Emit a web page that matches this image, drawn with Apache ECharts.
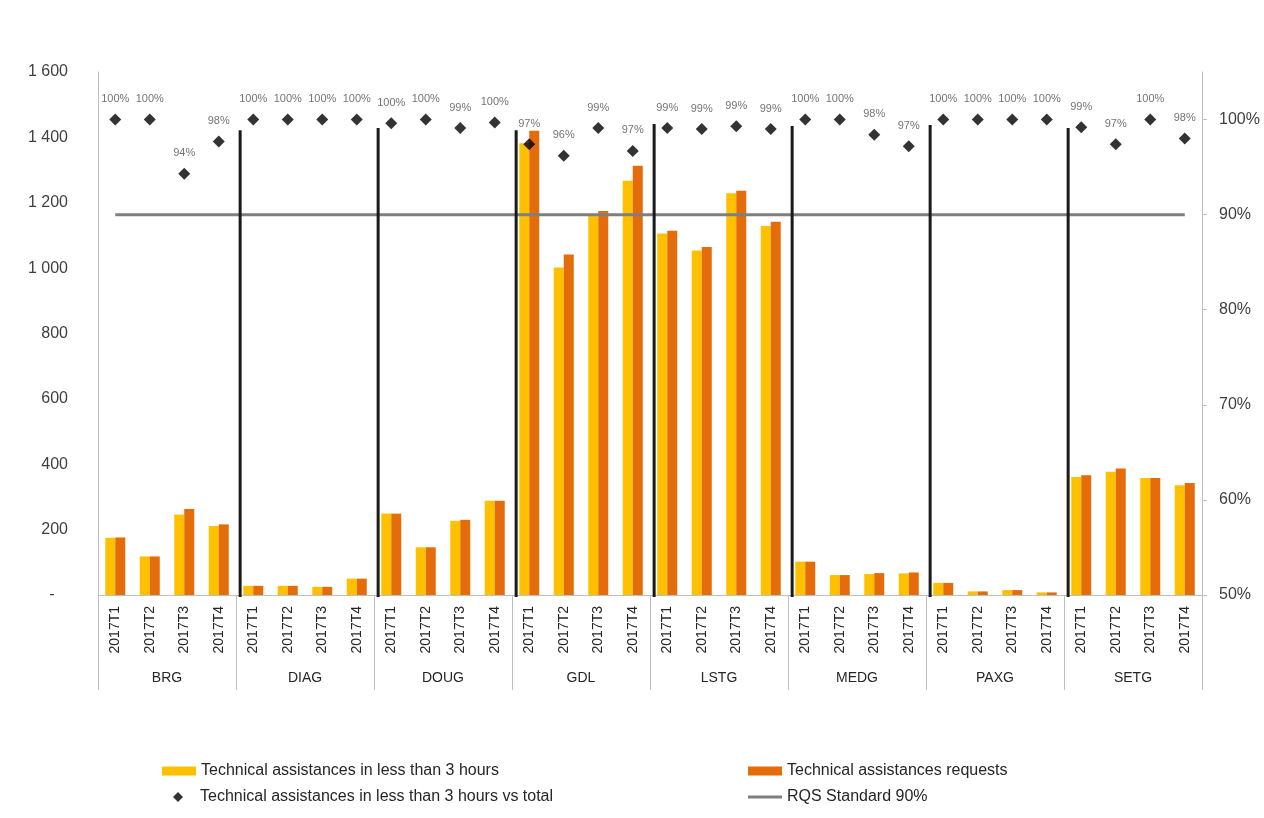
<!DOCTYPE html>
<html>
<head>
<meta charset="utf-8">
<title>Technical assistances 2017</title>
<script src="https://cdn.jsdelivr.net/npm/echarts@6/dist/echarts.min.js"></script>
<style>
  html, body { margin: 0; padding: 0; background: #ffffff; }
  #chart { width: 1264px; height: 818px; }
</style>
</head>
<body>
<div id="chart"></div>
<script>
// Sites and quarters (each site has four quarters)
const groups = ['BRG', 'DIAG', 'DOUG', 'GDL', 'LSTG', 'MEDG', 'PAXG', 'SETG'];
const quarters = ['2017T1', '2017T2', '2017T3', '2017T4'];

// Technical assistances completed in less than 3 hours
const within3h = [
  175, 118, 246, 211,
  28, 28, 25, 50,
  249, 146, 227, 288,
  1382, 1002, 1165, 1267,
  1106, 1054, 1229, 1129,
  102, 61, 64, 66,
  37, 11, 15, 8,
  361, 377, 358, 336
];

// Total technical assistance requests
const requests = [
  176, 118, 263, 216,
  28, 28, 25, 50,
  249, 146, 230, 288,
  1420, 1042, 1175, 1313,
  1114, 1065, 1237, 1142,
  102, 61, 67, 69,
  37, 11, 15, 8,
  366, 387, 358, 343
];

// Share handled in less than 3 hours (%)
const pctWithin = [
  100, 100, 94.3, 97.7,
  100, 100, 100, 100,
  99.6, 100, 99.1, 99.7,
  97.4, 96.2, 99.1, 96.7,
  99.1, 99.0, 99.3, 99.0,
  100, 100, 98.4, 97.2,
  100, 100, 100, 100,
  99.2, 97.4, 100, 98.0
];

// RQS standard (%)
const rqsStandard = 90;

// Heights of the separators drawn between sites (left axis units)
const dividerTops = [1422, 1429, 1422, 1441, 1435, 1438, 1429];

const leftTicks = { min: 0, max: 1600, interval: 200 };
const rightTicks = { min: 50, max: 105, interval: 10 };

// ---- derived structures ----
const categories = [];
groups.forEach(g => quarters.forEach(q => categories.push(g + '|' + q)));
const rqsLine = categories.map(() => rqsStandard);
const dividerData = dividerTops.map((h, i) => [(i + 1) * quarters.length + 0.12, h]);

const FONT = '"Liberation Sans", Arial, sans-serif';
const TXT = '#404040';
const AXIS = '#bfbfbf';

const chart = echarts.init(document.getElementById('chart'), null, { renderer: 'canvas' });

const legendBase = {
  orient: 'horizontal',
  padding: 0,
  itemGap: 10,
  textStyle: { fontFamily: FONT, fontSize: 16, color: '#262626' },
  selectedMode: false
};

chart.setOption({
  animation: false,
  backgroundColor: '#ffffff',
  grid: { left: 98, right: 62, top: 72, bottom: 223, containLabel: false },
  xAxis: [
    {
      type: 'category',
      data: categories,
      boundaryGap: true,
      axisLine: { show: true, lineStyle: { color: AXIS, width: 1 } },
      axisTick: { show: false },
      axisLabel: {
        interval: 0,
        rotate: 90,
        margin: 11,
        fontFamily: FONT,
        fontSize: 14,
        color: '#262626',
        formatter: v => v.split('|')[1]
      },
      splitLine: { show: false }
    },
    {
      type: 'category',
      data: groups,
      position: 'bottom',
      boundaryGap: true,
      axisLine: { show: false },
      axisTick: { show: true, length: 95, lineStyle: { color: AXIS, width: 1 } },
      axisLabel: {
        interval: 0,
        margin: 76,
        fontFamily: FONT,
        fontSize: 14,
        color: '#262626'
      },
      splitLine: { show: false }
    },
    {
      type: 'value',
      min: 0,
      max: categories.length,
      show: false
    }
  ],
  yAxis: [
    {
      type: 'value',
      min: leftTicks.min,
      max: leftTicks.max,
      interval: leftTicks.interval,
      axisLine: { show: true, lineStyle: { color: AXIS, width: 1 } },
      axisTick: { show: false },
      splitLine: { show: false },
      axisLabel: {
        margin: 30,
        fontFamily: FONT,
        fontSize: 16,
        color: TXT,
        formatter: v => v === 0 ? '-   ' : String(v).replace(/\B(?=(\d{3})+(?!\d))/g, ' ')
      }
    },
    {
      type: 'value',
      position: 'right',
      min: rightTicks.min,
      max: rightTicks.max,
      interval: rightTicks.interval,
      axisLine: { show: true, lineStyle: { color: AXIS, width: 1 } },
      axisTick: { show: true, length: 5, lineStyle: { color: AXIS } },
      splitLine: { show: false },
      axisLabel: {
        margin: 17,
        showMaxLabel: false,
        fontFamily: FONT,
        fontSize: 16,
        color: TXT,
        formatter: '{value}%'
      }
    }
  ],
  legend: [
    Object.assign({}, legendBase, {
      left: 162, top: 763, itemWidth: 34, itemHeight: 9,
      data: [{ name: 'Technical assistances in less than 3 hours', icon: 'rect' }]
    }),
    Object.assign({}, legendBase, {
      left: 748, top: 763, itemWidth: 34, itemHeight: 9,
      data: [{ name: 'Technical assistances requests', icon: 'rect' }]
    }),
    Object.assign({}, legendBase, {
      left: 173, top: 789, itemWidth: 10, itemHeight: 10,
      textStyle: Object.assign({}, legendBase.textStyle, { padding: [0, 0, 0, 12] }),
      data: [{ name: 'Technical assistances in less than 3 hours vs total', icon: 'diamond' }]
    }),
    Object.assign({}, legendBase, {
      left: 748, top: 789, itemWidth: 34, itemHeight: 3,
      data: [{ name: 'RQS Standard 90%', icon: 'rect' }]
    })
  ],
  series: [
    {
      name: 'Technical assistances in less than 3 hours',
      type: 'bar',
      xAxisIndex: 0,
      yAxisIndex: 0,
      data: within3h,
      barWidth: 10,
      barGap: '0%',
      itemStyle: { color: '#FFC000' },
      z: 2
    },
    {
      name: 'Technical assistances requests',
      type: 'bar',
      xAxisIndex: 0,
      yAxisIndex: 0,
      data: requests,
      barWidth: 10,
      barGap: '0%',
      itemStyle: { color: '#E46C0A' },
      z: 2
    },
    {
      name: 'RQS Standard 90%',
      type: 'line',
      xAxisIndex: 0,
      yAxisIndex: 1,
      data: rqsLine,
      symbol: 'none',
      lineStyle: { color: '#7f7f7f', width: 3 },
      itemStyle: { color: '#7f7f7f' },
      z: 3
    },
    {
      name: 'site separators',
      type: 'custom',
      xAxisIndex: 2,
      yAxisIndex: 0,
      data: dividerData,
      renderItem: (params, api) => {
        const top = api.coord([api.value(0), api.value(1)]);
        const bottom = api.coord([api.value(0), 0]);
        return {
          type: 'line',
          shape: { x1: top[0], y1: top[1], x2: bottom[0], y2: bottom[1] + 2 },
          style: { stroke: '#1a1a1a', lineWidth: 3 }
        };
      },
      silent: true,
      z: 4
    },
    {
      name: 'Technical assistances in less than 3 hours vs total',
      type: 'scatter',
      xAxisIndex: 0,
      yAxisIndex: 1,
      data: pctWithin,
      symbol: 'diamond',
      symbolSize: 12,
      itemStyle: { color: '#000000' },
      label: {
        show: true,
        position: 'top',
        distance: 9,
        fontFamily: FONT,
        fontSize: 11,
        color: '#505050',
        formatter: p => Math.round(p.value) + '%'
      },
      z: 5
    }
  ]
});
</script>
</body>
</html>
